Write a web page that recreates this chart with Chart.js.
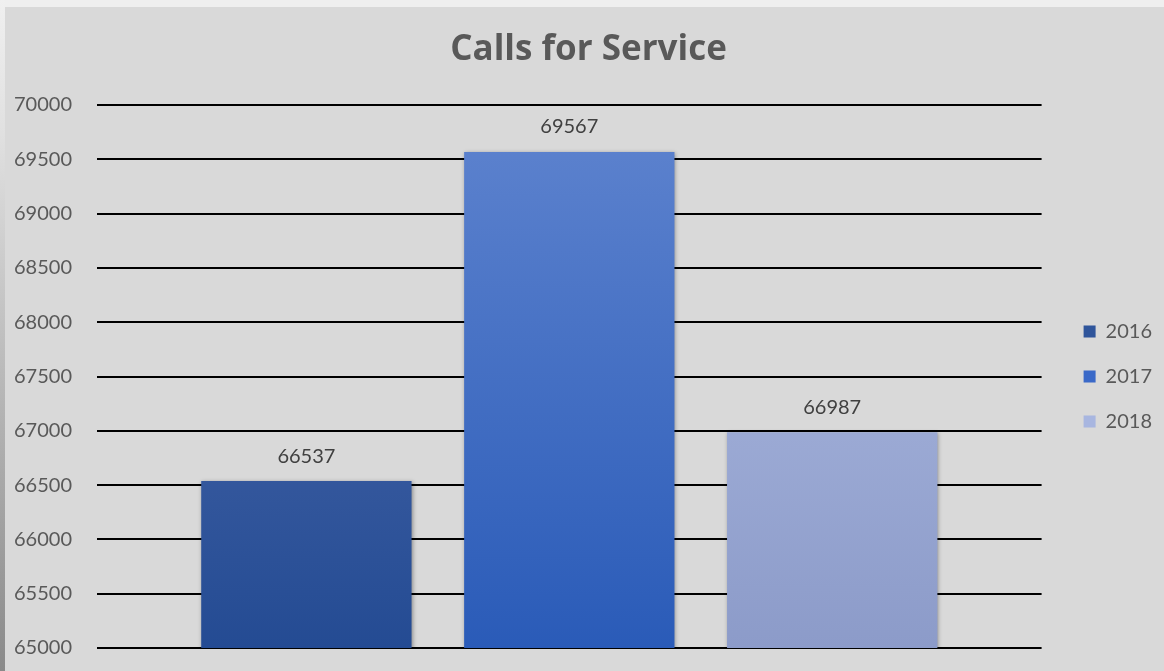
<!DOCTYPE html>
<html>
<head>
<meta charset="utf-8">
<script src="https://cdn.jsdelivr.net/npm/chart.js@4.4.1/dist/chart.umd.min.js"></script>
<style>
  html, body { margin: 0; padding: 0; background: #efefef; }
  #edge { position: absolute; left: 0; top: 0; width: 5px; height: 671px; background: linear-gradient(#f0f0f0, #e0e0e0 20%, #8a8a8a); }
  #wrap { position: absolute; left: 5px; top: 7px; width: 1159px; height: 664px; background: #d9d9d9; }
</style>
</head>
<body>
<div id="edge"></div>
<div id="wrap"><canvas id="chart" width="1159" height="664"></canvas></div>
<script>
// datos del grafico
const categories = [''];
const years = ['2016', '2017', '2018'];
const calls = [66537, 69567, 66987];
const yTicks = [65000, 65500, 66000, 66500, 67000, 67500, 68000, 68500, 69000, 69500, 70000];

// colores (arriba / abajo del degradado) y color del cuadro de leyenda
const topColors = ['#5571b1', '#5f84cf', '#b2bfe5'];
const bottomColors = ['#244b93', '#2a5bb8', '#8c9bc9'];
const legendColors = ['#2f559b', '#3a69c8', '#a8b6e0'];

const FONT = 'Lato, "Open Sans", sans-serif';

function gradientFor(i) {
    return function (ctx) {
        const area = ctx.chart.chartArea;
        if (!area) return legendColors[i];
        const g = ctx.chart.ctx.createLinearGradient(0, area.top, 0, area.bottom);
        g.addColorStop(0, topColors[i]);
        g.addColorStop(1, bottomColors[i]);
        return g;
    };
}

// etiquetas de valor encima de cada barra
const valueLabels = {
    id: 'valueLabels',
    afterDatasetsDraw(chart) {
        const c = chart.ctx;
        c.save();
        c.font = '20px ' + FONT;
        c.fillStyle = '#404040';
        c.textAlign = 'center';
        c.textBaseline = 'middle';
        chart.data.datasets.forEach((ds, i) => {
            chart.getDatasetMeta(i).data.forEach((bar, j) => {
                c.fillText(String(ds.data[j]), bar.x, bar.y - 25);
            });
        });
        c.restore();
    }
};

// sombra suave de las barras
const barShadow = {
    id: 'barShadow',
    beforeDatasetsDraw(chart) {
        chart.ctx.save();
        chart.ctx.shadowColor = 'rgba(0,0,0,0.35)';
        chart.ctx.shadowBlur = 4;
        chart.ctx.shadowOffsetX = 1;
        chart.ctx.shadowOffsetY = 1;
    },
    afterDatasetsDraw(chart) {
        chart.ctx.restore();
    }
};

// ajustar leyenda (a la derecha, centrada en el area) y titulo (centrado en el lienzo)
const layoutTweaks = {
    id: 'layoutTweaks',
    afterLayout(chart) {
        const lg = chart.legend;
        if (lg) {
            const dx = 17;
            lg.left += dx;
            lg.right += dx;
            lg.top = chart.chartArea.top;
            lg.bottom = chart.chartArea.bottom;
            lg.height = lg.bottom - lg.top;
        }
        const t = chart.titleBlock;
        if (t) {
            t.left += 9;
            t.right += 9;
        }
    }
};

new Chart(document.getElementById('chart'), {
    type: 'bar',
    data: {
        labels: categories,
        datasets: years.map((y, i) => ({
            label: y,
            data: [calls[i]],
            backgroundColor: gradientFor(i),
            borderWidth: 0,
            categoryPercentage: 0.835,
            barPercentage: 0.80
        }))
    },
    plugins: [barShadow, valueLabels, layoutTweaks],
    options: {
        responsive: false,
        animation: false,
        layout: { padding: { left: 9, right: 19, top: 0, bottom: 23 } },
        plugins: {
            tooltip: { enabled: false },
            title: {
                display: true,
                text: 'Calls for Service',
                color: '#595959',
                font: { family: '"Open Sans", sans-serif', size: 35, weight: 'bold' },
                padding: { top: 22, bottom: 34 }
            },
            legend: {
                position: 'right',
                labels: {
                    color: '#595959',
                    font: { family: FONT, size: 20 },
                    boxWidth: 12,
                    boxHeight: 12,
                    padding: 25,
                    generateLabels: (chart) => years.map((y, i) => ({
                        text: y,
                        fillStyle: legendColors[i],
                        strokeStyle: legendColors[i],
                        lineWidth: 0,
                        fontColor: '#595959',
                        datasetIndex: i
                    }))
                }
            }
        },
        scales: {
            x: {
                display: false
            },
            y: {
                min: 65000,
                max: 70000,
                afterFit: (s) => { s.width = 83; },
                afterBuildTicks: (s) => { s.ticks = yTicks.map(v => ({ value: v })); },
                border: { display: false },
                grid: { color: '#000000', lineWidth: 2, drawTicks: false },
                ticks: {
                    color: '#595959',
                    font: { family: FONT, size: 20 },
                    padding: 0,
                    crossAlign: 'far',
                    callback: (v) => String(v)
                }
            }
        }
    }
});
</script>
</body>
</html>
